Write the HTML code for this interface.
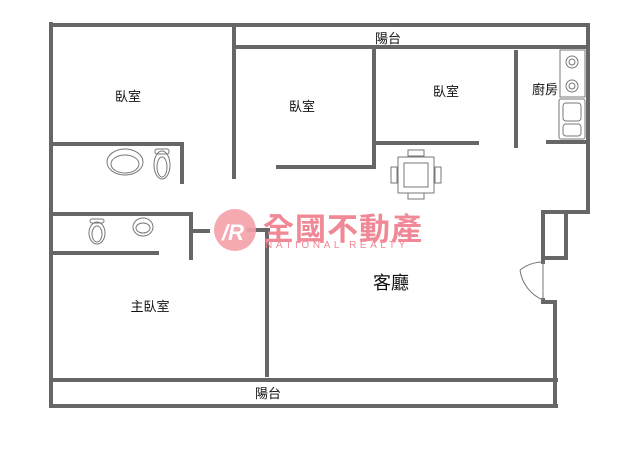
<!DOCTYPE html><html><head><meta charset="utf-8"><style>
body{margin:0;background:#fff;width:638px;height:460px;overflow:hidden}
.t{font-family:"Liberation Sans","Noto Sans CJK TC",sans-serif;fill:#111}
</style></head><body>
<svg width="638" height="460" viewBox="0 0 638 460" xmlns="http://www.w3.org/2000/svg">
<g stroke="#666" stroke-width="4" fill="none" stroke-linecap="square">
<path d="M51 24V406M51 25H588V212M235 47H588M234 26V177M278 167H374V48M376 143H477M516 52V146M548 142H587"/>
<path d="M588 212H543V258H566V212M543 258V262M543 300V302H555V406M51 380H556M51 406H556"/>
<path d="M51 144H182V182M51 214H191V258M51 253H157M194 231H208M249 230H268M267 230V375"/>
</g>
<g stroke="#777" stroke-width="1" fill="none">
<path d="M543 262 A38 38 0 0 0 520 270 M543 262 V300 M520 270 A38 38 0 0 0 543 300"/>
<ellipse cx="125" cy="162" rx="18" ry="13"/><ellipse cx="125" cy="164" rx="14" ry="9"/>
<ellipse cx="162" cy="165" rx="8" ry="14"/><ellipse cx="162" cy="167" rx="5" ry="10"/><rect x="155" y="149" width="14" height="5" rx="2"/>
<ellipse cx="97" cy="233" rx="8" ry="11"/><ellipse cx="97" cy="234" rx="5" ry="8"/><rect x="90" y="219" width="14" height="4" rx="2"/>
<ellipse cx="143" cy="227" rx="10" ry="9"/><ellipse cx="143" cy="228" rx="7" ry="5"/>
<rect x="398" y="157" width="36" height="36"/><rect x="404" y="163" width="24" height="24"/>
<rect x="408" y="150" width="16" height="6"/><rect x="408" y="193" width="16" height="6"/>
<rect x="391" y="167" width="6" height="16"/><rect x="435" y="167" width="6" height="16"/>
<rect x="560" y="50" width="25" height="47"/><circle cx="572" cy="62" r="6"/><circle cx="572" cy="62" r="3"/><circle cx="572" cy="86" r="6"/><circle cx="572" cy="86" r="3"/>
<rect x="559" y="99" width="26" height="40" rx="2"/><rect x="563" y="103" width="18" height="18" rx="3"/><rect x="563" y="124" width="18" height="12" rx="3"/>
</g>
<circle cx="235" cy="230" r="21" fill="#f4a0a8" opacity="0.9"/>
<text x="222" y="240" font-size="22" font-style="italic" font-weight="bold" class="t" style="fill:#fff">/R</text>
<text x="263" y="240" font-size="31" font-weight="bold" class="t" style="fill:#f08896;letter-spacing:1px">全國不動產</text>
<text x="265" y="248" font-size="10" class="t" style="fill:#f08896;letter-spacing:3.6px">NATIONAL REALTY</text>
<g class="t" font-size="13">
<text x="128" y="101" text-anchor="middle">臥室</text>
<text x="302" y="111" text-anchor="middle">臥室</text>
<text x="446" y="96" text-anchor="middle">臥室</text>
<text x="545" y="94" text-anchor="middle">廚房</text>
<text x="388" y="43" text-anchor="middle">陽台</text>
<text x="150" y="311" text-anchor="middle">主臥室</text>
<text x="268" y="398" text-anchor="middle">陽台</text>
<text x="391" y="289" text-anchor="middle" font-size="18">客廳</text>
</g>
</svg>
</body></html>
